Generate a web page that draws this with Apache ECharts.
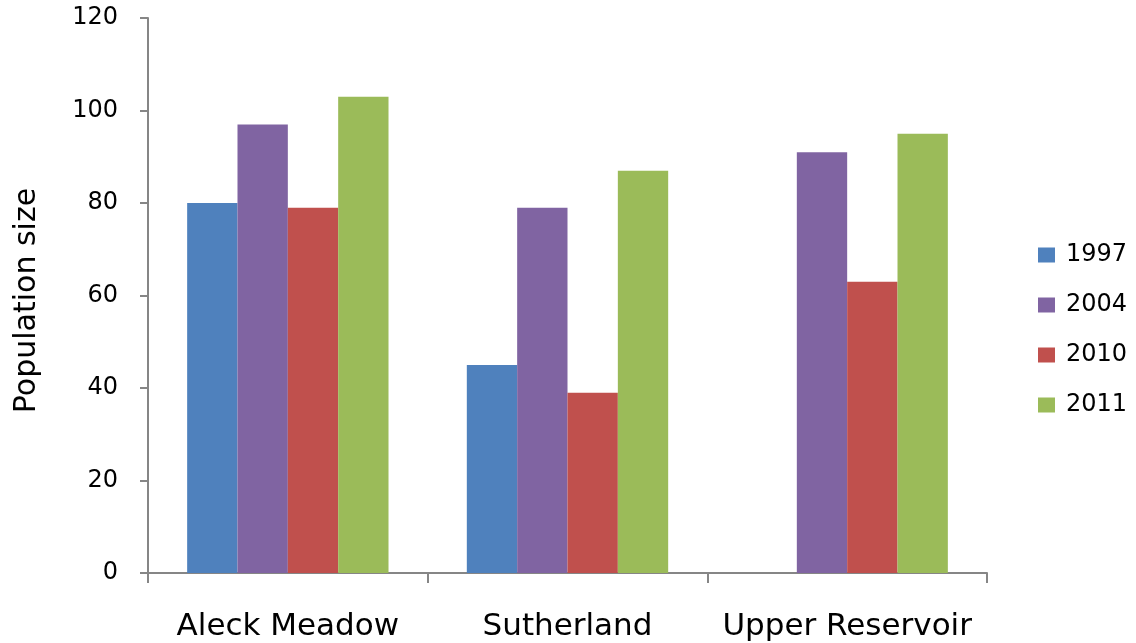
<!DOCTYPE html>
<html>
<head>
<meta charset="utf-8">
<title>Population size by site</title>
<script src="https://cdn.jsdelivr.net/npm/echarts@6/dist/echarts.min.js"></script>
<style>
  html, body { margin: 0; padding: 0; background: #fff; }
  #chart { width: 1136px; height: 643px; }
</style>
</head>
<body>
<div id="chart"></div>
<script>
// Sites along the x axis
const sites = ['Aleck Meadow', 'Sutherland', 'Upper Reservoir'];

// Survey years (one series each)
const years = ['1997', '2004', '2010', '2011'];

// Population counts per site, by survey year
const pop1997 = [80, 45, null];
const pop2004 = [97, 79, 91];
const pop2010 = [79, 39, 63];
const pop2011 = [103, 87, 95];

// Value axis ticks
const yTicks = [0, 20, 40, 60, 80, 100, 120];

const seriesValues = [pop1997, pop2004, pop2010, pop2011];
const colors = ['#4F81BD', '#8064A2', '#C0504D', '#9BBB59'];
const font = '"DejaVu Sans", sans-serif';
const axisGray = '#868686';

const chart = echarts.init(document.getElementById('chart'), null, { renderer: 'canvas' });

chart.setOption({
  animation: false,
  backgroundColor: '#ffffff',
  color: colors,
  grid: { left: 148, right: 149, top: 18, bottom: 70, containLabel: false },
  legend: {
    orient: 'vertical',
    left: 1033,
    top: 238,
    icon: 'rect',
    itemWidth: 17,
    itemHeight: 15,
    itemGap: 26,
    textStyle: { fontFamily: font, fontSize: 24, color: '#000', padding: [0, 0, 0, 6], lineHeight: 24 },
    data: years
  },
  xAxis: {
    type: 'category',
    data: sites,
    axisLine: { show: true, lineStyle: { color: axisGray, width: 2 } },
    axisTick: { show: true, interval: 0, alignWithLabel: false, length: 10, lineStyle: { color: axisGray, width: 2 } },
    axisLabel: { interval: 0, fontFamily: font, fontSize: 31, color: '#000', margin: 38 },
    splitLine: { show: false }
  },
  yAxis: {
    type: 'value',
    min: yTicks[0],
    max: yTicks[yTicks.length - 1],
    interval: yTicks[1] - yTicks[0],
    name: 'Population size',
    nameLocation: 'middle',
    nameGap: 106,
    nameRotate: 90,
    nameTextStyle: { fontFamily: font, fontSize: 30, color: '#000', padding: [0, 10, 0, 0] },
    axisLine: { show: true, lineStyle: { color: axisGray, width: 2 } },
    axisTick: { show: true, length: 8, lineStyle: { color: axisGray, width: 2 } },
    axisLabel: { fontFamily: font, fontSize: 24, color: '#000', margin: 30 },
    splitLine: { show: false }
  },
  series: years.map((y, i) => ({
    name: y,
    type: 'bar',
    data: seriesValues[i],
    barGap: '0%',
    barCategoryGap: '28%',
    itemStyle: { color: colors[i] }
  }))
});
</script>
</body>
</html>
